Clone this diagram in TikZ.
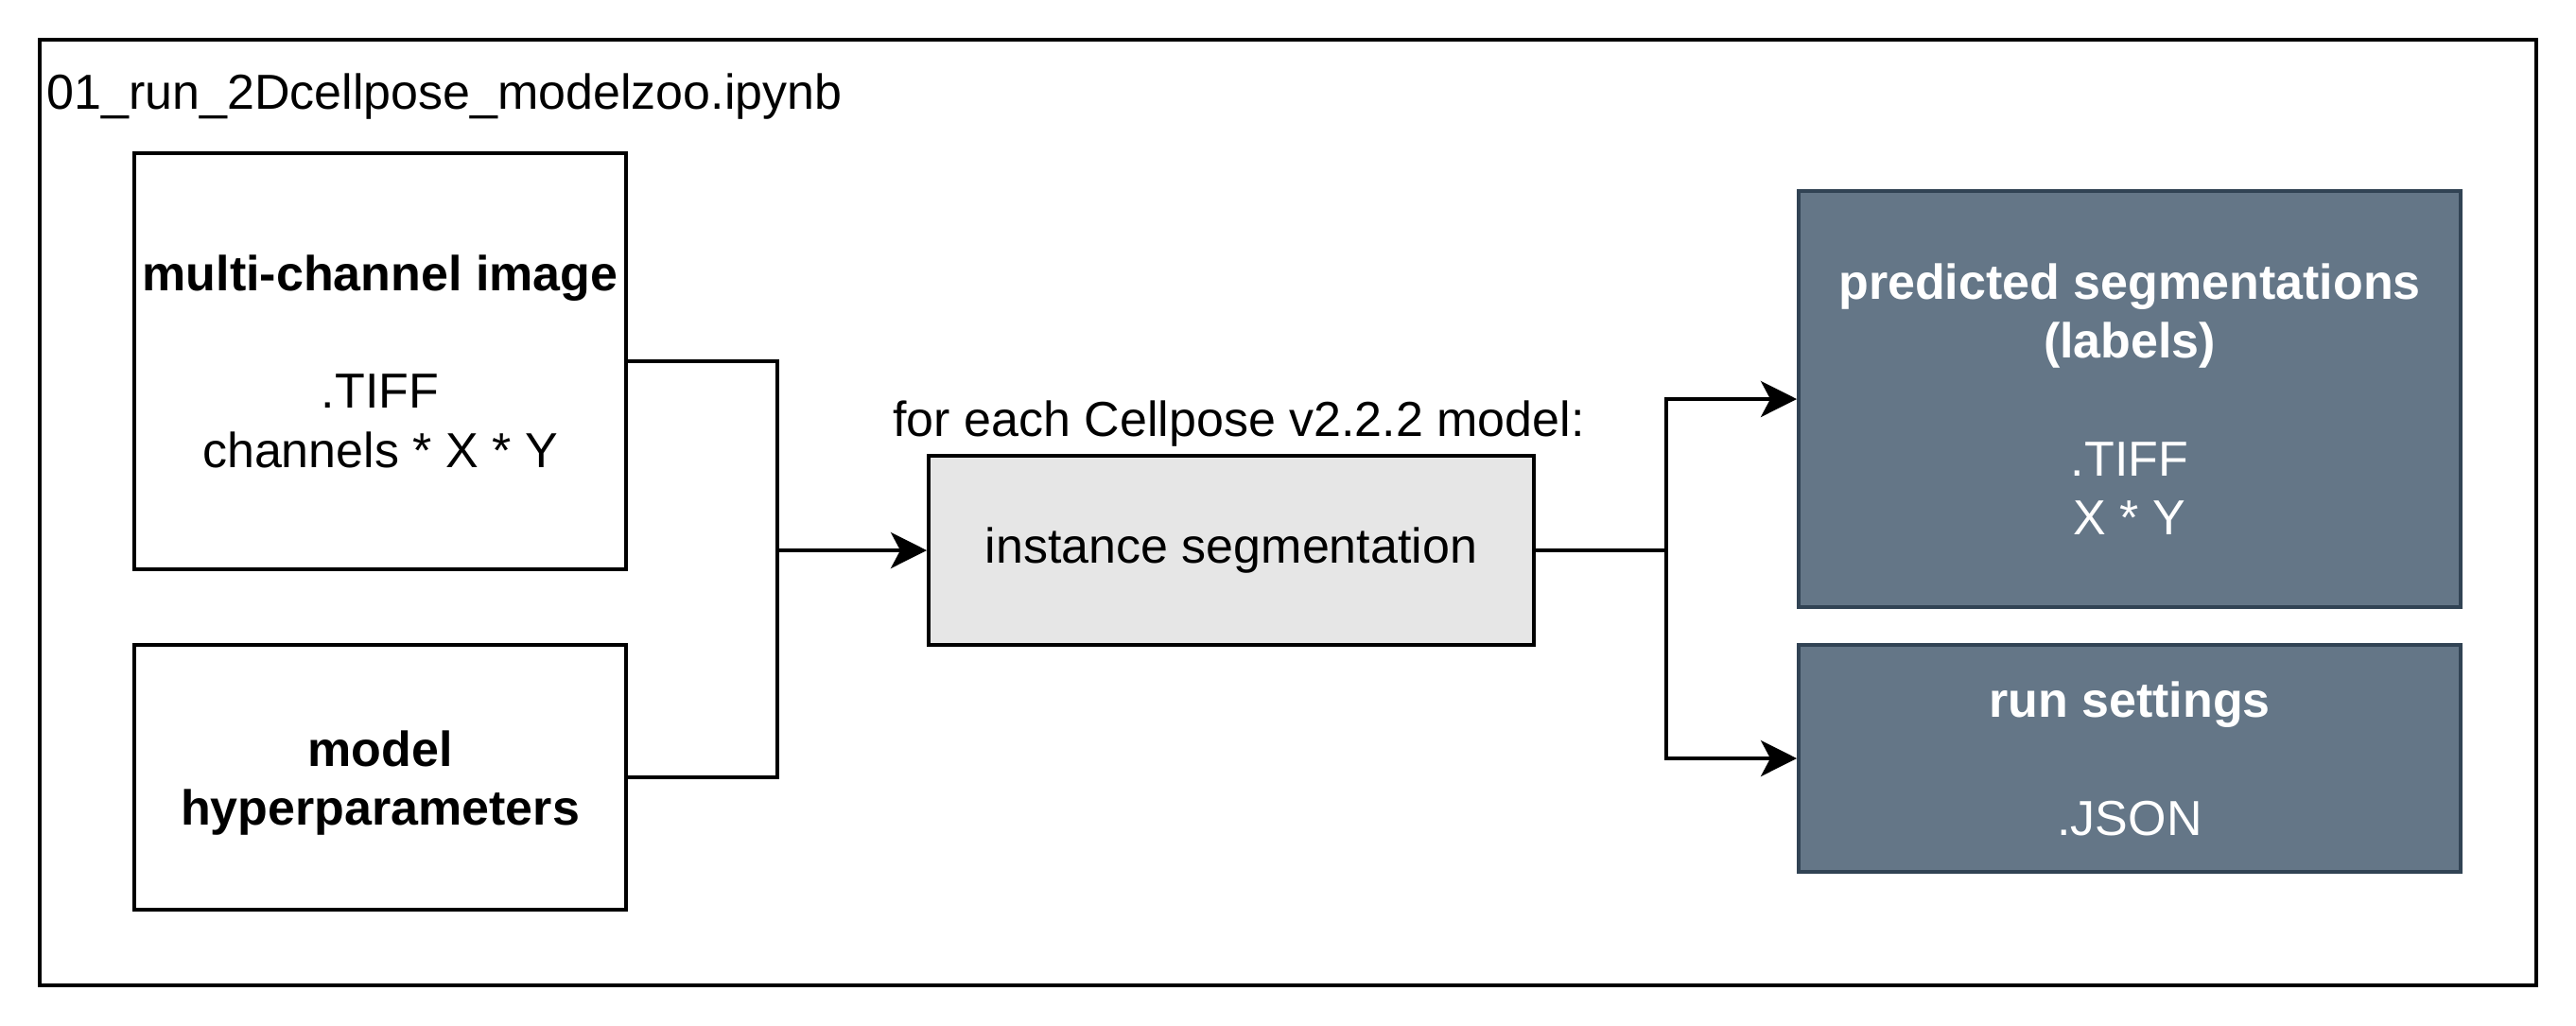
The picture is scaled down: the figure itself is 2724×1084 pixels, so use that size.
\documentclass[tikz,border=0pt]{standalone}
\usepackage{fontspec}
\setmainfont{Liberation Sans}
\usetikzlibrary{arrows.meta}
\definecolor{slatefill}{HTML}{647687}
\definecolor{slateedge}{HTML}{314354}
\definecolor{procfill}{HTML}{E6E6E6}
\begin{document}
\begin{tikzpicture}[x=0.5pt,y=-0.5pt,
  every node/.style={font=\fontsize{26}{31.2}\selectfont, inner sep=0pt, align=center},
  inbox/.style={draw=black, line width=2pt, fill=white},
  procbox/.style={draw=black, line width=2pt, fill=procfill},
  outbox/.style={draw=slateedge, line width=2pt, fill=slatefill, text=white},
  conn/.style={draw=black, line width=2pt},
  arr/.style={conn, -{Stealth[length=19pt,width=19pt,inset=5pt]}}
]
\useasboundingbox (0,0) rectangle (2724,1084);
\node[draw=black, line width=2pt, minimum width=1320pt, minimum height=500pt] (frame) at (1362,542) {};
\node[anchor=base west] (title) at (49,115) {01\_run\_2Dcellpose\_modelzoo.ipynb};

\node[inbox, minimum width=260pt, minimum height=220pt] (img) at (402,382)
  {\textbf{multi-channel image}\\[31.2pt].TIFF\\channels * X * Y};
\node[inbox, minimum width=260pt, minimum height=140pt] (hyp) at (402,822)
  {};
\node (hyptext) at (402,828) {\textbf{model}\\\textbf{hyperparameters}};
\node[procbox, minimum width=320pt, minimum height=100pt] (seg) at (1302,582)
  {instance segmentation};
\node[anchor=base] (lbl) at (1310,461) {for each Cellpose v2.2.2 model:};
\node[outbox, minimum width=350pt, minimum height=220pt] (pred) at (2252,422)
  {\textbf{predicted segmentations}\\\textbf{(labels)}\\[31.2pt].TIFF\\X * Y};
\node[outbox, minimum width=350pt, minimum height=120pt] (run) at (2252,802)
  {\textbf{run settings}\\[31.2pt].JSON};

\coordinate (j1) at (822,582);
\coordinate (j2) at (1762,582);
\draw[conn] (img.east) -| (j1);
\draw[conn] (hyp.east) -| (j1);
\draw[arr] (j1) -- (seg.west);
\draw[conn] (seg.east) -- (j2);
\draw[arr] (j2) |- (pred.west);
\draw[arr] (j2) |- (run.west);
\end{tikzpicture}
\end{document}
